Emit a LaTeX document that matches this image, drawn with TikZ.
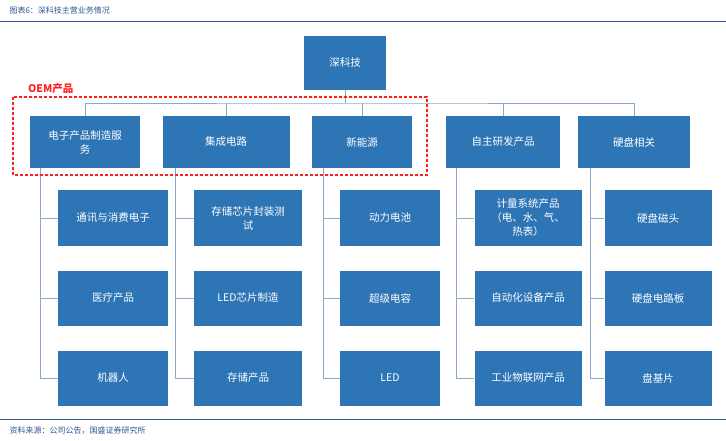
\documentclass[tikz,border=0pt]{standalone}
\usepackage{fontspec}
\newfontfamily\cjk{Noto Sans CJK SC}
\definecolor{bx}{HTML}{2E75B6}
\definecolor{ln}{HTML}{8EA9C8}
\definecolor{tl}{HTML}{2F5597}
\definecolor{oemred}{HTML}{FF2020}
\begin{document}
\begin{tikzpicture}[x=1pt,y=-1pt,
 box/.style={fill=bx,text=white,font=\cjk\fontsize{10.5}{14}\selectfont,align=center,inner sep=2pt},
 conn/.style={draw=ln,line width=0.7pt}]
\useasboundingbox (0,0) rectangle (726,441);
\node[anchor=west,text=tl,font=\cjk\itshape\fontsize{8}{10}\selectfont] (t) at (6,10) {图表6：深科技主营业务情况};
\draw[tl,line width=0.8pt] (0,21) -- (726,21);
\draw[tl,line width=0.6pt] (0,419) -- (726,419);
\node[anchor=west,text=tl,font=\cjk\itshape\fontsize{8}{10}\selectfont] (s) at (6,431) {资料来源：公司公告，国盛证券研究所};
% root
\node[box,minimum width=82pt,minimum height=54pt] (r) at (345,63) {深科技};
% level 1
\foreach \n/\cx/\w/\t in {a/85/110/{电子产品制造服\\务},b/226/127/集成电路,c/362/100/新能源,d/503/114/自主研发产品,e/634/112/硬盘相关}{
 \node[box,minimum width=\w pt,minimum height=52pt,text width=\w pt-12pt] (\n) at (\cx,142) {\t};
}
\coordinate (bus) at (345,103);
\draw[conn] (r.south) -- (bus);
\draw[conn] (a.north) |- (bus) -| (e.north);
\foreach \n in {b,c,d} \draw[conn] (\n.north) -- (\n.north|-bus);
% children
\foreach \p/\vx/\cx/\w/\ta/\tb/\tc in {
 a/40/113/110/通讯与消费电子/医疗产品/机器人,
 b/175/248/108/{存储芯片封装测\\试}/LED芯片制造/存储产品,
 c/323/390/100/动力电池/超级电容/LED,
 d/456/528/107/{计量系统产品\\（电、水、气、\\热表）}/自动化设备产品/工业物联网产品,
 e/590/658/107/硬盘磁头/硬盘电路板/盘基片}{
 \node[box,minimum width=\w pt,minimum height=55pt,text width=\w pt-12pt] (\p1) at (\cx,218) {\ta};
 \node[box,minimum width=\w pt,minimum height=55pt,text width=\w pt-12pt] (\p2) at (\cx,298) {\tb};
 \node[box,minimum width=\w pt,minimum height=55pt,text width=\w pt-12pt] (\p3) at (\cx,378) {\tc};
 \coordinate (\p v) at (\vx,168);
 \draw[conn] (\p v) |- (\p3.west);
 \draw[conn] (\p v|-\p1.west) -- (\p1.west);
 \draw[conn] (\p v|-\p2.west) -- (\p2.west);
}
% OEM
\draw[draw=oemred,dash pattern=on 3pt off 2pt,line width=1.2pt] (13,97) rectangle (427,175);
\node[anchor=south west,text=oemred,font=\cjk\bfseries\fontsize{10.5}{12}\selectfont,inner sep=1pt] (oem) at (27,95) {OEM产品};
\end{tikzpicture}
\end{document}
